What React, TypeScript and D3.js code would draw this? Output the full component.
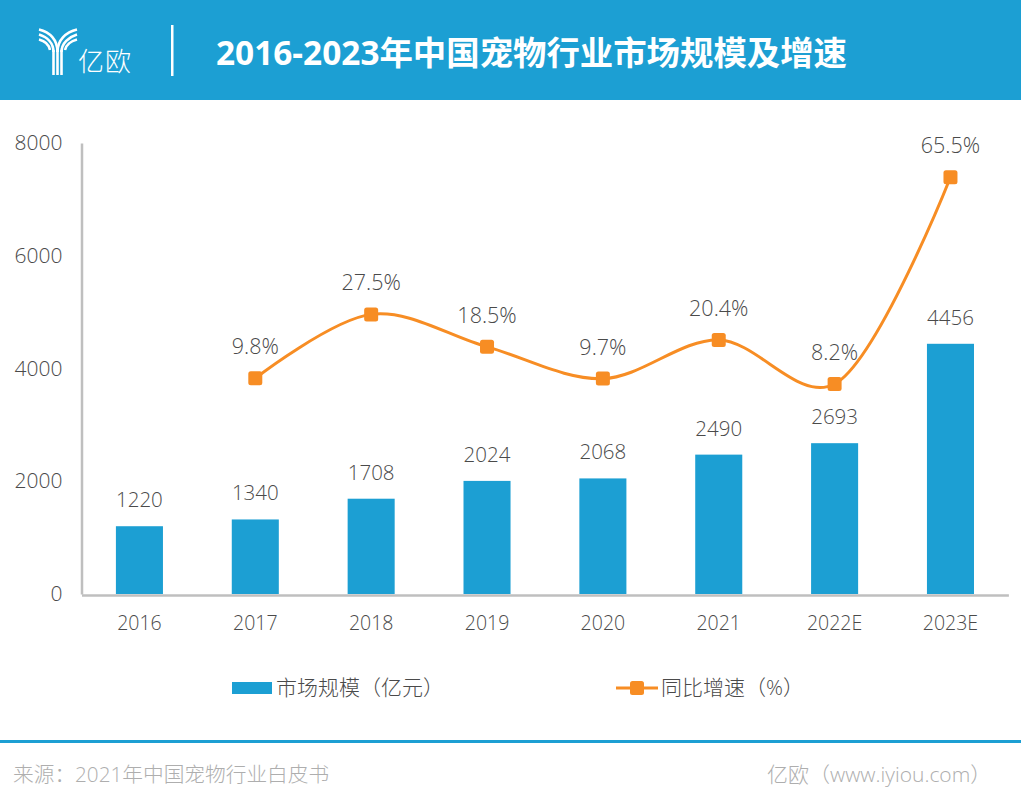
import * as d3 from "d3";
import {useRef, useEffect} from "react";

const categories = ["2016", "2017", "2018", "2019", "2020", "2021", "2022E", "2023E"];
const marketSize = [1220, 1340, 1708, 2024, 2068, 2490, 2693, 4456];
const growthYears = ["2017", "2018", "2019", "2020", "2021", "2022E", "2023E"];
const growthRate = [9.8, 27.5, 18.5, 9.7, 20.4, 8.2, 65.5];
const sizeTicks = [0, 2000, 4000, 6000, 8000];
const legendLabels = ["市场规模（亿元）", "同比增速（%）"];

const BLUE = "#1c9fd3";
const ORANGE = "#f78d24";
const GREY = "#bfbfbf";
const TEXT = "#4a4a4a";
const FONT = "'Open Sans', 'Noto Sans CJK SC', sans-serif";

export default function App() {
    const svgRef = useRef(null);

    useEffect(() => {
        const svg = d3.select(svgRef.current);
        svg.selectAll("*").remove();
        svg.attr("font-family", FONT);

        // Header
        svg.append("rect").attr("width", 1021).attr("height", 100).attr("fill", BLUE);
        const logo = svg.append("g").attr("fill", "none").attr("stroke", "#fff").attr("stroke-width", 2.6);
        [
            "M39 29.5C50 32 57.5 40 57.5 52",
            "M39 34.5C47 37 53.5 43 53.5 52",
            "M39 39.5C45 41 49 45 50 50",
            "M77 29.5C66 32 57.5 40 57.5 52",
            "M77 34.5C69 37 61.5 43 61.5 52",
            "M77 39.5C71 41 66 45 65 50",
            "M53.5 50V75",
            "M57.5 50V75",
            "M61.5 50V75",
        ].forEach(d => logo.append("path").attr("d", d));
        svg.append("text").attr("x", 78).attr("y", 71).attr("fill", "#fff")
            .attr("font-size", 26).attr("font-weight", 300).attr("letter-spacing", 1).text("亿欧");
        svg.append("rect").attr("x", 171).attr("y", 25).attr("width", 2.5).attr("height", 51).attr("fill", "#fff");
        svg.append("text").attr("x", 216).attr("y", 65).attr("fill", "#fff")
            .attr("font-size", 33.4).attr("font-weight", 700).text("2016-2023年中国宠物行业市场规模及增速");

        // Scales
        const x = d3.scaleBand().domain(categories).range([81.5, 1008.4]).paddingInner(0.594).paddingOuter(0.297);
        const y = d3.scaleLinear().domain([0, 8000]).range([594, 143]);
        const yRate = d3.scaleLinear().domain([-50, 75]).range([594, 143]);
        const cx = (c: string) => (x(c) as number) + x.bandwidth() / 2;

        // Bars
        svg.append("g").selectAll("rect").data(categories).join("rect")
            .attr("x", d => x(d) as number)
            .attr("width", x.bandwidth())
            .attr("y", (_, i) => y(marketSize[i]) + 1)
            .attr("height", (_, i) => 594 - y(marketSize[i]) - 1)
            .attr("fill", BLUE);

        // Axes
        const xAxis = svg.append("g").attr("transform", "translate(0,595)")
            .call(d3.axisBottom(x).tickSize(0).tickPadding(21));
        const yAxis = svg.append("g").attr("transform", "translate(81.5,0)")
            .call(d3.axisLeft(y).tickValues(sizeTicks).tickSize(0).tickPadding(19).tickFormat(d3.format("d")));
        xAxis.select(".domain").attr("stroke", GREY).attr("stroke-width", 2.5);
        yAxis.select(".domain").attr("stroke", GREY).attr("stroke-width", 2.5);
        xAxis.selectAll("text").attr("font-size", 19.5).attr("font-weight", 300).attr("fill", TEXT).attr("font-family", FONT);
        yAxis.selectAll("text").attr("font-size", 21).attr("font-weight", 300).attr("fill", TEXT).attr("font-family", FONT);

        // Bar labels
        svg.append("g").selectAll("text").data(categories).join("text")
            .attr("x", d => cx(d))
            .attr("y", (_, i) => y(marketSize[i]) - 18)
            .attr("text-anchor", "middle").attr("font-size", 20.5).attr("font-weight", 300).attr("fill", TEXT)
            .text((_, i) => marketSize[i]);

        // Growth line
        const line = d3.line<string>()
            .x(d => cx(d))
            .y((_, i) => yRate(growthRate[i]))
            .curve(d3.curveCatmullRom.alpha(0.25));
        svg.append("path").attr("d", line(growthYears))
            .attr("fill", "none").attr("stroke", ORANGE).attr("stroke-width", 3);
        svg.append("g").selectAll("rect").data(growthYears).join("rect")
            .attr("x", d => cx(d) - 7)
            .attr("y", (_, i) => yRate(growthRate[i]) - 7)
            .attr("width", 14).attr("height", 14).attr("rx", 2.5).attr("fill", ORANGE);
        svg.append("g").selectAll("text").data(growthYears).join("text")
            .attr("x", d => cx(d))
            .attr("y", (_, i) => yRate(growthRate[i]) - 24)
            .attr("text-anchor", "middle").attr("font-size", 21.5).attr("font-weight", 300).attr("fill", TEXT)
            .text((_, i) => growthRate[i].toFixed(1) + "%");

        // Legend
        svg.append("rect").attr("x", 232).attr("y", 682).attr("width", 40).attr("height", 12).attr("fill", BLUE);
        svg.append("text").attr("x", 276).attr("y", 695).attr("font-size", 21).attr("font-weight", 300)
            .attr("fill", TEXT).text(legendLabels[0]);
        svg.append("line").attr("x1", 616).attr("x2", 658).attr("y1", 688).attr("y2", 688)
            .attr("stroke", ORANGE).attr("stroke-width", 3);
        svg.append("rect").attr("x", 630).attr("y", 681).attr("width", 14).attr("height", 14).attr("rx", 2.5).attr("fill", ORANGE);
        svg.append("text").attr("x", 661).attr("y", 695).attr("font-size", 21).attr("font-weight", 300)
            .attr("fill", TEXT).text(legendLabels[1]);

        // Footer
        svg.append("rect").attr("y", 740).attr("width", 1021).attr("height", 3).attr("fill", BLUE);
        svg.append("text").attr("x", 13).attr("y", 782).attr("font-size", 20.7).attr("font-weight", 300)
            .attr("fill", "#aeaeae").text("来源：2021年中国宠物行业白皮书");
        svg.append("text").attr("x", 767).attr("y", 782).attr("font-size", 21).attr("font-weight", 300)
            .attr("fill", "#aeaeae").text("亿欧（www.iyiou.com）");
    }, []);

    return (
        <svg ref={svgRef} width={1034} height={808} style={{position: "absolute", left: 0, top: 0, background: "#fff"}} />
    );
}
